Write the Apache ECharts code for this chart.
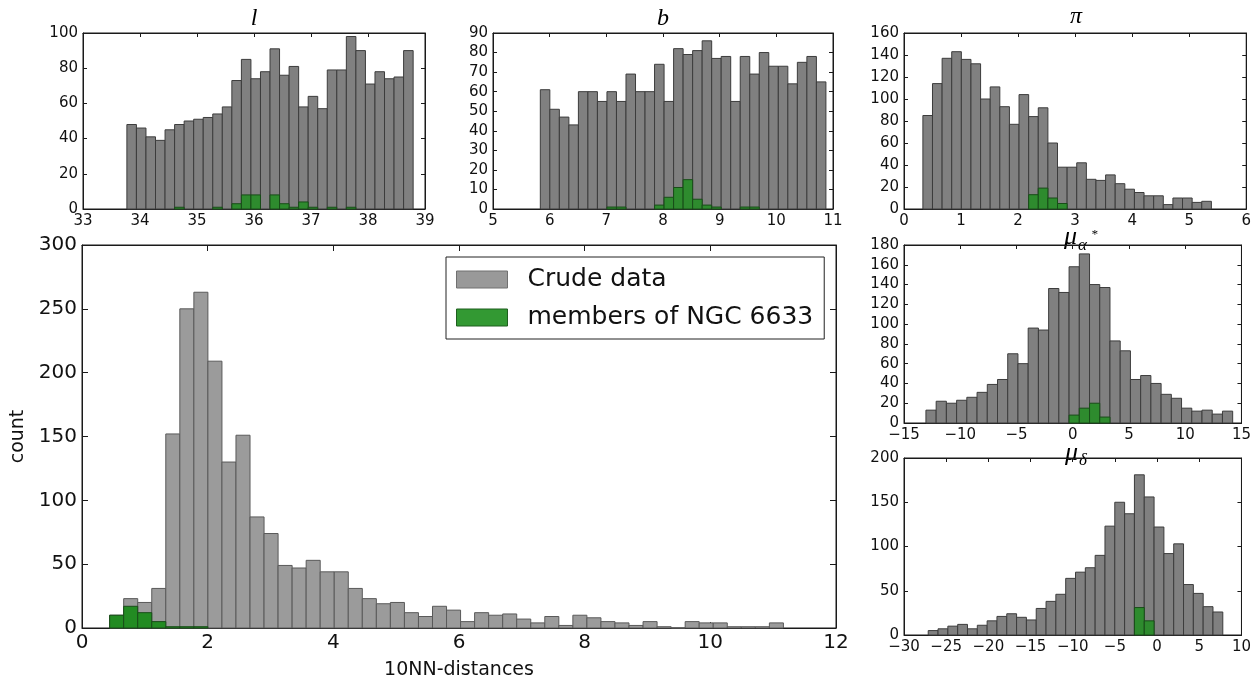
<!DOCTYPE html>
<html><head><meta charset="utf-8">
<script src="https://cdn.jsdelivr.net/npm/echarts@6/dist/echarts.min.js"></script>
<style>html,body{margin:0;padding:0;background:#fff}#c{width:1254px;height:685px}</style>
</head><body><div id="c"></div>
<script>
// ---------- DATA ----------
// Main panel: 10NN-distances
const mainBinStart = 0.44, mainBinWidth = 0.2234;
const mainCrude = [10,23,20,31,152,250,263,209,130,151,87,74,49,47,53,44,44,31,23,19,20,12,9,17,14,5,12,10,11,7,4,9,2,10,8,5,4,2,5,1,0,5,4,4,1,1,1,4];
const mainMembers = [10,17,12,5,1,1,1];
const mainXTicks = [0, 12, 2];
const mainYTicks = [0, 300, 50];

// l
const lBinStart = 33.77, lBinWidth = 0.1674;
const lCrude = [48,46,41,39,45,48,50,51,52,54,58,73,85,74,78,91,76,81,58,64,57,79,79,98,90,71,78,74,75,90];
const lMembers = [0,0,0,0,0,1,0,0,0,1,0,3,8,8,0,8,3,1,4,1,0,1,0,1,0,0,0,0,0,0];

// b
const bBinStart = 5.835, bBinWidth = 0.168;
const bCrude = [61,51,47,43,60,60,55,60,55,69,60,60,74,55,82,79,81,86,77,78,55,78,69,80,73,73,64,75,78,65];
const bMembers = [0,0,0,0,0,0,0,1,1,0,0,0,2,6,11,15,5,2,1,0,0,1,1,0,0,0,0,0,0,0];

// pi (parallax)
const pBinStart = 0.331, pBinWidth = 0.1686;
const pCrude = [85,114,137,143,136,132,100,111,93,77,104,84,92,60,38,38,42,27,26,31,23,18,15,12,12,4,10,10,6,7];
const pMembers = [0,0,0,0,0,0,0,0,0,0,0,13,19,10,5,0,0,0,0,0,0,0,0,0,0,0,0,0,0,0];

// mu_alpha*
const aBinStart = -13.05, aBinWidth = 0.909;
const aCrude = [13,22,20,23,26,31,39,44,70,60,96,94,136,132,158,171,140,137,83,73,44,48,40,29,25,15,12,13,9,12];
const aMembers = [0,0,0,0,0,0,0,0,0,0,0,0,0,0,8,15,20,6,0,0,0,0,0,0,0,0,0,0,0,0];

// mu_delta
const dBinStart = -27.13, dBinWidth = 1.164;
const dCrude = [5,7,10,12,7,11,16,21,24,20,17,30,38,46,64,71,76,90,123,150,137,181,156,122,92,103,57,47,32,26];
const dMembers = [0,0,0,0,0,0,0,0,0,0,0,0,0,0,0,0,0,0,0,0,0,31,16,0,0,0,0,0,0,0];

const legendNames = ['Crude data', 'members of NGC 6633'];

// ---------- BUILD ----------
function toBins(start, width, counts, skipZero) {
  const out = [];
  counts.forEach((c, i) => {
    if (skipZero && c === 0) return;
    out.push([start + i * width, start + (i + 1) * width, c]);
  });
  return out;
}
const minus = v => (v < 0 ? '\u2212' + Math.abs(v) : String(v));
const FONT = 'DejaVu Sans';

const panels = [
  {grid:{left:82, top:245, width:754, height:390}, x:mainXTicks, y:mainYTicks, fs:20, tl:6,
   crude:toBins(mainBinStart, mainBinWidth, mainCrude, false), mem:toBins(mainBinStart, mainBinWidth, mainMembers, true),
   gray:'#9b9b9b', green:'#228b22', main:true},
  {grid:{left:83, top:33, width:342, height:176}, x:[33,39,1], y:[0,100,20], fs:15, tl:4,
   crude:toBins(lBinStart,lBinWidth,lCrude,false), mem:toBins(lBinStart,lBinWidth,lMembers,true), gray:'#808080', green:'#2e8b2e'},
  {grid:{left:493, top:33, width:340, height:176}, x:[5,11,1], y:[0,90,10], fs:15, tl:4,
   crude:toBins(bBinStart,bBinWidth,bCrude,false), mem:toBins(bBinStart,bBinWidth,bMembers,true), gray:'#808080', green:'#2e8b2e'},
  {grid:{left:904, top:33, width:344, height:176}, x:[0,6,1], y:[0,160,20], fs:15, tl:4,
   crude:toBins(pBinStart,pBinWidth,pCrude,false), mem:toBins(pBinStart,pBinWidth,pMembers,true), gray:'#808080', green:'#2e8b2e'},
  {grid:{left:904, top:245, width:344, height:178}, x:[-15,15,5], y:[0,180,20], fs:15, tl:4,
   crude:toBins(aBinStart,aBinWidth,aCrude,false), mem:toBins(aBinStart,aBinWidth,aMembers,true), gray:'#808080', green:'#2e8b2e'},
  {grid:{left:904, top:458, width:344, height:177}, x:[-30,10,5], y:[0,200,50], fs:15, tl:4,
   crude:toBins(dBinStart,dBinWidth,dCrude,false), mem:toBins(dBinStart,dBinWidth,dMembers,true), gray:'#808080', green:'#2e8b2e'}
];

const grids = [], xAxes = [], yAxes = [], series = [];
const axisColor = '#1a1a1a';
panels.forEach((p, gi) => {
  grids.push(Object.assign({show:true, borderColor:axisColor, borderWidth:1, containLabel:false}, p.grid));
  const common = (show, pos, fs, tl) => ({
    gridIndex: gi, type:'value', position: pos,
    axisLine:{show:true, onZero:false, lineStyle:{color:axisColor, width:1}},
    axisTick:{show:true, inside:true, length:tl, lineStyle:{color:axisColor, width:1}},
    axisLabel:{show:show, fontSize:fs, color:'#111', fontFamily:FONT, margin:5, formatter:minus},
    splitLine:{show:false}
  });
  const xa = Object.assign(common(true,'bottom',p.fs,p.tl), {min:p.x[0], max:p.x[1], interval:p.x[2]});
  const xb = Object.assign(common(false,'top',p.fs,p.tl), {min:p.x[0], max:p.x[1], interval:p.x[2]});
  const ya = Object.assign(common(true,'left',p.fs,p.tl), {min:p.y[0], max:p.y[1], interval:p.y[2]});
  const yb = Object.assign(common(false,'right',p.fs,p.tl), {min:p.y[0], max:p.y[1], interval:p.y[2]});
  if (p.main) {
    xa.name = '10NN-distances'; xa.nameLocation = 'middle'; xa.nameGap = 33;
    xa.nameTextStyle = {fontSize:19, fontFamily:FONT, color:'#111'};
    ya.name = 'count'; ya.nameLocation = 'middle'; ya.nameGap = 49;
    ya.nameTextStyle = {fontSize:19, fontFamily:FONT, color:'#111'};
  }
  const xi = xAxes.length, yi = yAxes.length;
  xAxes.push(xa, xb); yAxes.push(ya, yb);
  const mk = (name, data, fill, stroke) => ({
    type:'custom', name:name, xAxisIndex:xi, yAxisIndex:yi, data:data,
    encode:{x:[0,1], y:2}, silent:true,
    itemStyle:{color:fill},
    renderItem:(params, api) => {
      const a = api.coord([api.value(0), api.value(2)]);
      const b = api.coord([api.value(1), 0]);
      return {type:'rect', shape:{x:a[0], y:a[1], width:b[0]-a[0], height:b[1]-a[1]},
              style:{fill:fill, stroke:stroke, lineWidth:1}};
    }
  });
  series.push(mk(p.main ? legendNames[0] : 'crude'+gi, p.crude, p.gray, p.main ? '#5a5a5a' : '#3c3c3c'));
  series.push(mk(p.main ? legendNames[1] : 'mem'+gi, p.mem, p.green, '#184d18'));
});

const serif = '"Liberation Serif", "DejaVu Serif", serif';
const T = (x, y, text, size, align) => ({type:'text', x:x, y:y, silent:true,
  style:{text:text, fill:'#000', font:'italic ' + size + 'px ' + serif, align:align || 'center', verticalAlign:'bottom'}});
const graphics = [
  T(254, 31, 'l', 24),
  T(663, 31, 'b', 24),
  T(1076, 29, 'π', 24),
  T(1077, 250, 'μ', 26, 'right'), T(1078, 254, 'α', 17, 'left'), T(1091, 241, '*', 13, 'left'),
  T(1078, 466, 'μ', 26, 'right'), T(1079, 469, 'δ', 17, 'left')
];

const option = {
  animation:false,
  textStyle:{fontFamily:FONT},
  grid:grids, xAxis:xAxes, yAxis:yAxes, series:series,
  graphic:graphics,
  legend:{
    data:[{name:legendNames[0], itemStyle:{color:'#999999', borderColor:'#707070', borderWidth:1}},
          {name:legendNames[1], itemStyle:{color:'#339933', borderColor:'#1f5f1f', borderWidth:1}}],
    orient:'vertical', left:446, top:257, itemWidth:51, itemHeight:17, itemGap:13,
    padding:[10,11,9,10], borderColor:'#222', borderWidth:1, backgroundColor:'#fff',
    icon:'rect', selectedMode:false,
    textStyle:{fontSize:25, fontFamily:FONT, color:'#111', padding:[0,0,0,15]}
  }
};
const chart = echarts.init(document.getElementById('c'), null, {renderer:'canvas'});
chart.setOption(option);
</script>
</body></html>
